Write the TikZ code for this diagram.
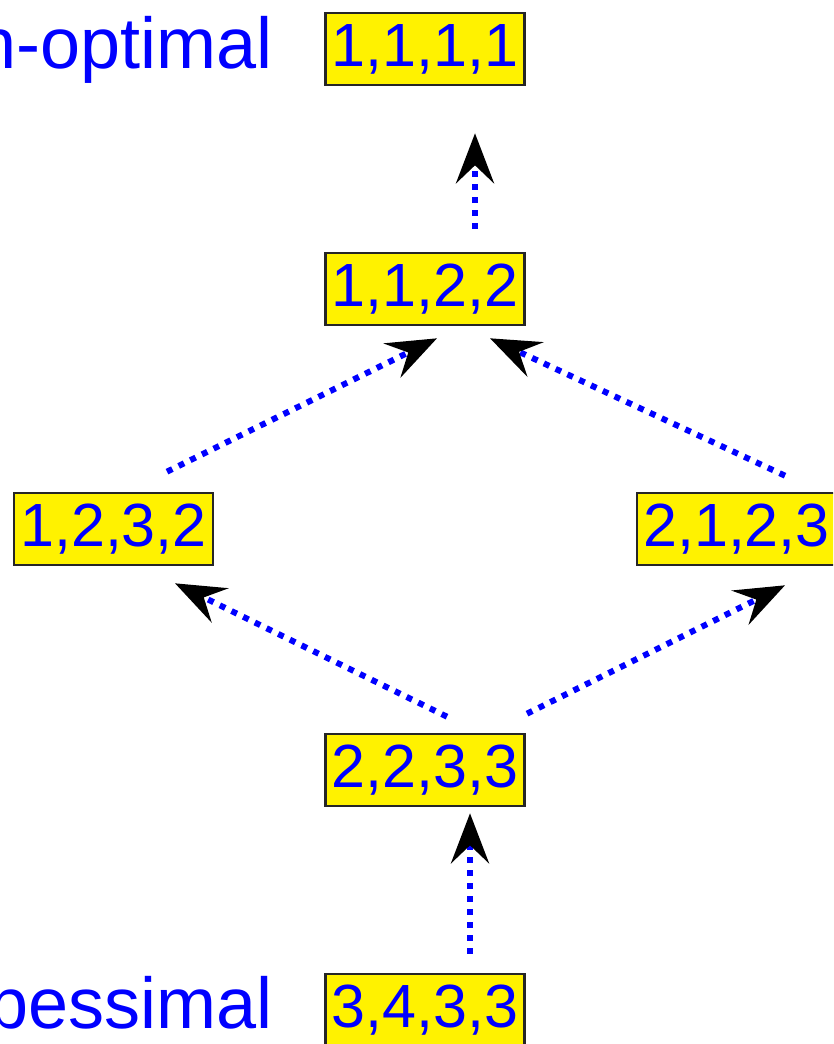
\documentclass[tikz,border=0pt]{standalone}
\usepackage{fontspec}
\setmainfont{Liberation Sans}
\usetikzlibrary{arrows.meta}
\begin{document}
\begin{tikzpicture}[x=1pt,y=-1pt,
  vec/.style={draw=black!85, fill=yellow, line width=2.6pt, minimum width=199pt,
    minimum height=72pt, inner sep=0pt, text=blue,
    font=\fontsize{61}{72}\selectfont},
  lbl/.style={text=blue, font=\fontsize{72}{86}\selectfont, inner sep=0pt,
    anchor=base east},
  edgearrow/.style={draw=blue, line width=6pt, dash pattern=on 6pt off 7pt,
    -{Stealth[black, length=50pt, width=38pt, inset=18pt]}}]
\useasboundingbox (0,0) rectangle (833,1044);
\clip (0,0) rectangle (833,1044);

\node[vec] (b1111) at (425,49) {1,1,1,1};
\node[vec] (b1122) at (425,289) {1,1,2,2};
\node[vec] (b1232) at (113.5,529) {1,2,3,2};
\node[vec] (b2123) at (736.5,529) {2,1,2,3};
\node[vec] (b2233) at (425,770) {2,2,3,3};
\node[vec] (b3433) at (425,1010) {3,4,3,3};

\node[lbl] (lopt) at (273,68) {n-optimal};
\node[lbl] (lpes) at (273,1028) {pessimal};

\coordinate (a1s) at ([shift={(45,-19)}]b3433.north);
\coordinate (a1e) at ([shift={(45,6)}]b2233.south);
\coordinate (a2s) at ([shift={(22,-16)}]b2233.north);
\coordinate (a2e) at ([shift={(61.5,17)}]b1232.south);
\coordinate (a3s) at ([shift={(102,-19)}]b2233.north);
\coordinate (a3e) at ([shift={(48.5,19)}]b2123.south);
\coordinate (a4s) at ([shift={(53.5,-20)}]b1232.north);
\coordinate (a4e) at ([shift={(12,12)}]b1122.south);
\coordinate (a5s) at ([shift={(48.5,-16)}]b2123.north);
\coordinate (a5e) at ([shift={(65,12)}]b1122.south);
\coordinate (a6s) at ([shift={(50,-23)}]b1122.north);
\coordinate (a6e) at ([shift={(50,47)}]b1111.south);

\draw[edgearrow] (a1s) -- (a1e);
\draw[edgearrow] (a2s) -- (a2e);
\draw[edgearrow] (a3s) -- (a3e);
\draw[edgearrow] (a4s) -- (a4e);
\draw[edgearrow] (a5s) -- (a5e);
\draw[edgearrow] (a6s) -- (a6e);
\end{tikzpicture}
\end{document}
